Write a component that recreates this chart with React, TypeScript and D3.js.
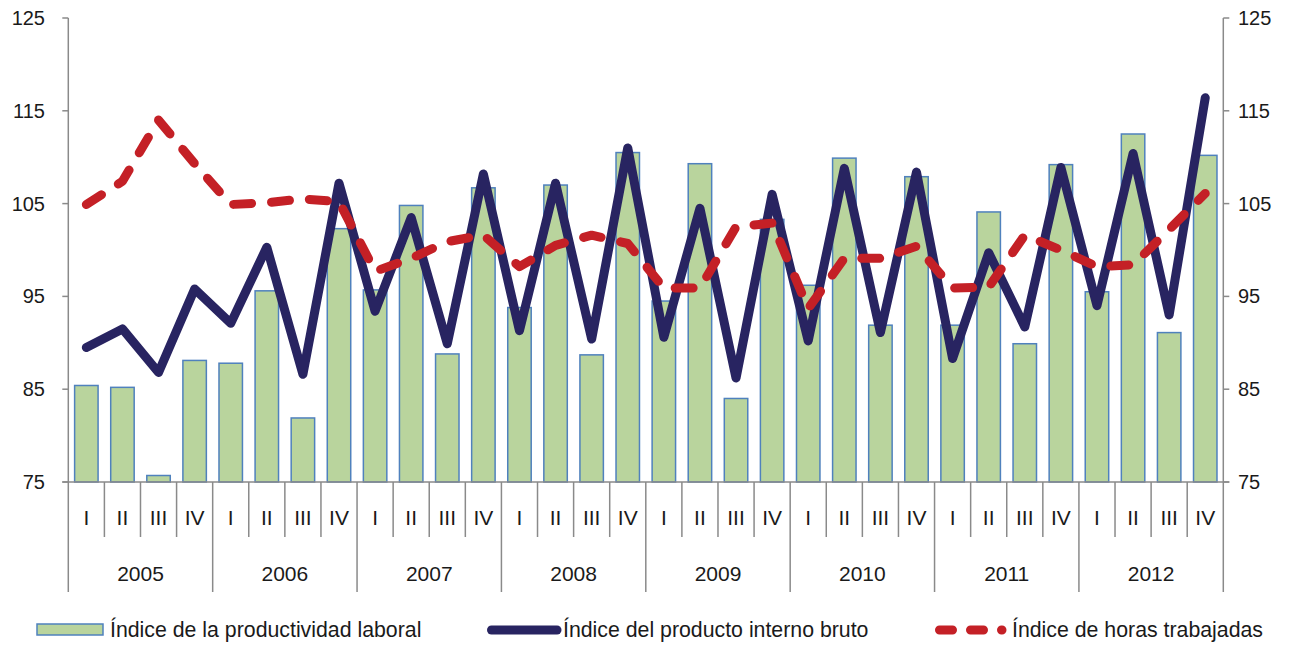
import React from "react";
import * as d3 from "d3";

// Chart data (index values, quarterly 2005-2012)
const years = ["2005", "2006", "2007", "2008", "2009", "2010", "2011", "2012"];
const quarters = ["I", "II", "III", "IV"];

const productividad = [
  85.4, 85.2, 75.7, 88.1,
  87.8, 95.6, 81.9, 102.3,
  95.7, 104.8, 88.8, 106.7,
  93.8, 107.0, 88.7, 110.5,
  94.5, 109.3, 84.0, 103.3,
  96.2, 109.9, 91.9, 107.9,
  91.9, 104.1, 89.9, 109.2,
  95.5, 112.5, 91.1, 110.2,
];

const pib = [
  89.5, 91.5, 86.8, 95.8,
  92.1, 100.3, 86.6, 107.2,
  93.4, 103.5, 89.9, 108.2,
  91.3, 107.2, 90.4, 111.0,
  90.6, 104.5, 86.2, 106.0,
  90.2, 108.8, 91.1, 108.4,
  88.3, 99.7, 91.7, 108.9,
  94.0, 110.4, 93.0, 116.4,
];

const horas = [
  104.9, 107.4, 114.0, 109.3,
  104.9, 105.1, 105.5, 105.2,
  97.7, 99.1, 100.9, 101.6,
  98.2, 100.5, 101.6, 100.7,
  95.9, 95.9, 102.5, 102.9,
  93.7, 99.1, 99.1, 100.4,
  95.9, 96.0, 101.6, 100.0,
  98.2, 98.4, 102.2, 106.1,
];

const yTicks = [75, 85, 95, 105, 115, 125];

const legendItems = [
  "Índice de la productividad laboral",
  "Índice del producto interno bruto",
  "Índice de horas trabajadas",
];

const W = 1294;
const H = 645;
const left = 68.3;
const right = 1223.3;
const top = 18;
const bottom = 482;

const axisColor = "#8a8a8a";
const barFill = "#b9d49d";
const barStroke = "#4f81bd";
const navy = "#282461";
const red = "#c42026";
const textColor = "#1a1a1a";
const font = "'Liberation Sans', Arial, sans-serif";

export default function App() {
  const n = productividad.length;
  const idx = d3.range(n);

  const x = d3
    .scaleBand<number>()
    .domain(idx)
    .range([left, right])
    .paddingInner(0.35)
    .paddingOuter(0.175);

  const y = d3.scaleLinear().domain([75, 125]).range([bottom, top]);

  const cx = (i: number) => (x(i) as number) + x.bandwidth() / 2;

  const line = d3
    .line<number>()
    .x((d, i) => cx(i))
    .y((d) => y(d));

  const step = x.step();
  const bounds = d3.range(n + 1).map((i) => left + i * step);

  return (
    <svg
      width={W}
      height={H}
      style={{ position: "absolute", left: 0, top: 0, background: "#fff" }}
      fontFamily={font}
    >
      {/* bars */}
      {productividad.map((v, i) => (
        <rect
          key={"b" + i}
          x={x(i)}
          y={y(v)}
          width={x.bandwidth()}
          height={bottom - y(v)}
          fill={barFill}
          stroke={barStroke}
          strokeWidth={1.5}
        />
      ))}

      {/* axes */}
      <line x1={left} x2={left} y1={top} y2={bottom} stroke={axisColor} strokeWidth={1.5} />
      <line x1={right} x2={right} y1={top} y2={bottom} stroke={axisColor} strokeWidth={1.5} />
      <line x1={left - 6} x2={right + 6} y1={bottom} y2={bottom} stroke={axisColor} strokeWidth={1.5} />
      {yTicks.map((t) => (
        <g key={"t" + t}>
          <line x1={left - 6} x2={left} y1={y(t)} y2={y(t)} stroke={axisColor} strokeWidth={1.5} />
          <line x1={right} x2={right + 6} y1={y(t)} y2={y(t)} stroke={axisColor} strokeWidth={1.5} />
          <text x={45} y={y(t)} dy="0.35em" textAnchor="end" fontSize={20} fill={textColor}>
            {t}
          </text>
          <text x={1238} y={y(t)} dy="0.35em" textAnchor="start" fontSize={20} fill={textColor}>
            {t}
          </text>
        </g>
      ))}

      {/* category separators */}
      {bounds.map((bx, i) => (
        <line
          key={"s" + i}
          x1={bx}
          x2={bx}
          y1={bottom}
          y2={i % 4 === 0 ? 592 : 537}
          stroke={axisColor}
          strokeWidth={1.5}
        />
      ))}
      {idx.map((i) => (
        <text key={"q" + i} x={cx(i)} y={525} textAnchor="middle" fontSize={21} fill={textColor}>
          {quarters[i % 4]}
        </text>
      ))}
      {years.map((yr, k) => (
        <text
          key={"y" + yr}
          x={left + (k * 4 + 2) * step}
          y={581}
          textAnchor="middle"
          fontSize={21}
          fill={textColor}
        >
          {yr}
        </text>
      ))}

      {/* lines */}
      <path
        d={line(pib) || ""}
        fill="none"
        stroke={navy}
        strokeWidth={9}
        strokeLinejoin="round"
        strokeLinecap="round"
      />
      <path
        d={line(horas) || ""}
        fill="none"
        stroke={red}
        strokeWidth={9}
        strokeDasharray="18,20"
        strokeLinejoin="round"
        strokeLinecap="round"
      />

      {/* legend */}
      <rect x={37} y={624} width={66} height={11} fill={barFill} stroke={barStroke} strokeWidth={1.5} />
      <text x={110} y={637} fontSize={21.3} fill={textColor}>
        {legendItems[0]}
      </text>
      <line x1={491.5} x2={557} y1={630} y2={630} stroke={navy} strokeWidth={9} strokeLinecap="round" />
      <text x={563} y={637} fontSize={21.3} fill={textColor}>
        {legendItems[1]}
      </text>
      <line
        x1={939.5}
        x2={1002}
        y1={630}
        y2={630}
        stroke={red}
        strokeWidth={9}
        strokeLinecap="round"
        strokeDasharray="13,18"
      />
      <text x={1012} y={637} fontSize={21.3} fill={textColor}>
        {legendItems[2]}
      </text>
    </svg>
  );
}
